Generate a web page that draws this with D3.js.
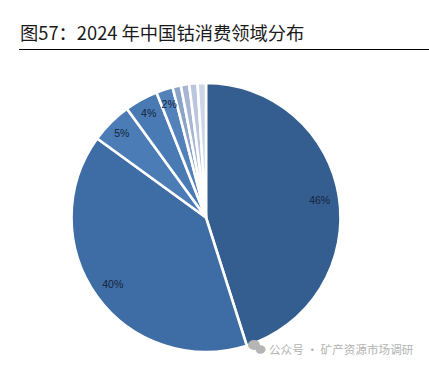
<!DOCTYPE html>
<html><head><meta charset="utf-8">
<script src="https://cdn.jsdelivr.net/npm/d3@7/dist/d3.min.js"></script>
<style>html,body{margin:0;padding:0;background:#fff}svg{display:block}</style></head>
<body><svg id="c" width="429" height="366"></svg>
<script>
const categories = ["a","b","c","d","e","f","g","h","i"];
const values = [45.1, 39.9, 5, 4, 2, 1, 1, 1, 1];
const sliceLabels = ["46%","40%","5%","4%","2%","","","",""];
const colors = ["#355e90","#3e6ca4","#4b7cb5","#4a7ab3","#5382bb","#8ba3c7","#a6b6d3","#b9c6dc","#cdd6e6"];
const titleText = "图57:2024 年中国钴消费领域分布";
const watermark = "公众号 · 矿产资源市场调研";

const svg = d3.select("#c");
const cjk = "'Noto Sans CJK SC','Noto Sans',sans-serif";
svg.append("text").attr("x",20).attr("y",40).attr("font-family",cjk)
  .attr("font-size",18.3).attr("fill","#1a1a1a").text(titleText.replace(":","："));
svg.append("line").attr("x1",19).attr("x2",429).attr("y1",49.5).attr("y2",49.5)
  .attr("stroke","#000").attr("stroke-width",1);

const cx=206, cy=217.5, R=134.5;
const pie=d3.pie().sort(null).value(d=>d)(values);
const arc=d3.arc().innerRadius(0).outerRadius(R);
const labelPos=d=>{const r=R*(d.value>10?0.855:0.885);return d3.arc().innerRadius(r).outerRadius(r).centroid(d);};
const g=svg.append("g").attr("transform",`translate(${cx},${cy})`);
g.selectAll("path").data(pie).join("path").attr("d",arc)
  .attr("fill",(d,i)=>colors[i]).attr("stroke","#fff").attr("stroke-width",2.6);
g.selectAll("text").data(pie).join("text")
  .attr("transform",d=>`translate(${labelPos(d)})`)
  .attr("text-anchor","middle").attr("dy","0.35em")
  .attr("font-family","'Liberation Sans',sans-serif").attr("font-size",10.5).attr("fill","#14233c")
  .text((d,i)=>sliceLabels[i]);

const w=svg.append("g").attr("fill","#b5b5b5");
w.append("ellipse").attr("cx",254).attr("cy",345).attr("rx",6).attr("ry",5);
w.append("ellipse").attr("cx",260.5).attr("cy",349.5).attr("rx",5).attr("ry",4.2);
svg.append("text").attr("x",269).attr("y",354).attr("font-family",cjk).attr("font-size",11.6)
  .attr("fill","#b3b3b3").text(watermark);
</script></body></html>
